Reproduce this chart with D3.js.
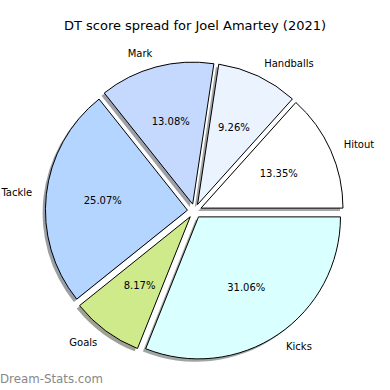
<!DOCTYPE html>
<html>
<head>
<meta charset="utf-8">
<script src="https://cdn.jsdelivr.net/npm/d3@7"></script>
<style>
body { margin: 0; background: #fff; }
text { font-family: "DejaVu Sans", sans-serif; }
</style>
</head>
<body>
<div id="chart"></div>
<script>
var categories = ["Hitout", "Handballs", "Mark", "Tackle", "Goals", "Kicks"];
var shares = [13.35, 9.26, 13.08, 25.07, 8.17, 31.06];
var colours = ["#ffffff", "#ebf3ff", "#c5d9ff", "#b4d5ff", "#cfea8a", "#d9ffff"];

var width = 390, height = 390;
var cx = 194.5, cy = 211, radius = 142;
var explode = 0.05 * radius;
var shadowOff = 0.02 * radius;

var svg = d3.select("#chart")
	.append("svg")
		.attr("width", width)
		.attr("height", height);

svg.append("text")
	.attr("x", 195)
	.attr("y", 30)
	.attr("text-anchor", "middle")
	.style("font-size", "13px")
	.text("DT score spread for Joel Amartey (2021)");

// matplotlib style: start at 3 o'clock, go counter-clockwise
var pie = d3.pie()
	.sort(null)
	.startAngle(Math.PI / 2)
	.endAngle(Math.PI / 2 - 2 * Math.PI)
	.value(function(d) { return d.value; });

var data = categories.map(function(c, i) {
	return { name: c, value: shares[i], colour: colours[i] };
});
var arcs = pie(data);

var arc = d3.arc().innerRadius(0).outerRadius(radius);

function mid(d) { return (d.startAngle + d.endAngle) / 2; }
function shift(d) {
	var a = mid(d);
	return [Math.sin(a) * explode, -Math.cos(a) * explode];
}

var g = svg.append("g")
	.attr("transform", "translate(" + cx + "," + cy + ")");

// shadows first
g.selectAll("path.shadow")
	.data(arcs)
	.enter().append("path")
		.attr("class", "shadow")
		.attr("d", arc)
		.attr("transform", function(d) {
			var s = shift(d);
			return "translate(" + (s[0] - shadowOff) + "," + (s[1] + shadowOff) + ")";
		})
		.attr("fill", function(d) {
			var c = d3.rgb(d.data.colour);
			return d3.rgb(c.r * 0.3, c.g * 0.3, c.b * 0.3);
		})
		.attr("fill-opacity", 0.5);

g.selectAll("path.wedge")
	.data(arcs)
	.enter().append("path")
		.attr("class", "wedge")
		.attr("d", arc)
		.attr("transform", function(d) {
			var s = shift(d);
			return "translate(" + s[0] + "," + s[1] + ")";
		})
		.attr("fill", function(d) { return d.data.colour; })
		.attr("stroke", "#000")
		.attr("stroke-width", 1)
		.attr("stroke-linejoin", "round");

// category labels
g.selectAll("text.label")
	.data(arcs)
	.enter().append("text")
		.attr("class", "label")
		.attr("x", function(d) { return shift(d)[0] + Math.sin(mid(d)) * radius * 1.1; })
		.attr("y", function(d) { return shift(d)[1] - Math.cos(mid(d)) * radius * 1.1; })
		.attr("dy", "0.35em")
		.attr("text-anchor", function(d) { return Math.sin(mid(d)) > 0 ? "start" : "end"; })
		.style("font-size", "10px")
		.text(function(d) { return d.data.name; });

// percentages
g.selectAll("text.pct")
	.data(arcs)
	.enter().append("text")
		.attr("class", "pct")
		.attr("x", function(d) { return shift(d)[0] + Math.sin(mid(d)) * radius * 0.6; })
		.attr("y", function(d) { return shift(d)[1] - Math.cos(mid(d)) * radius * 0.6; })
		.attr("dy", "0.35em")
		.attr("text-anchor", "middle")
		.style("font-size", "10px")
		.text(function(d) { return d.data.value.toFixed(2) + "%"; });

svg.append("text")
	.attr("x", 0)
	.attr("y", 383)
	.attr("fill", "#888888")
	.style("font-size", "11.8px")
	.text("Dream-Stats.com");
</script>
</body>
</html>
